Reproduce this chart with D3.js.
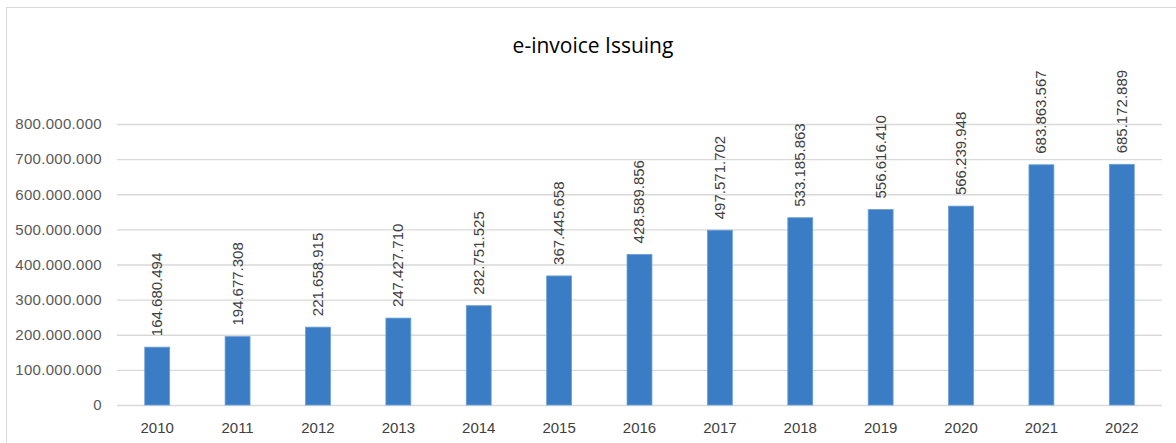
<!DOCTYPE html>
<html>
<head>
<meta charset="utf-8">
<script src="https://cdn.jsdelivr.net/npm/d3@7"></script>
<style>
  html, body { margin: 0; padding: 0; background: #ffffff; }
  svg { display: block; }
</style>
</head>
<body>
<div id="chart"></div>
<script>
// Annual e-invoice issuing volumes
const years = ["2010","2011","2012","2013","2014","2015","2016","2017","2018","2019","2020","2021","2022"];
const invoices = [164680494, 194677308, 221658915, 247427710, 282751525, 367445658, 428589856,
                  497571702, 533185863, 556616410, 566239948, 683863567, 685172889];
const yTicks = [0, 100000000, 200000000, 300000000, 400000000, 500000000, 600000000, 700000000, 800000000];
const chartTitle = "e-invoice Issuing";

const W = 1176, H = 443;
const margin = { left: 117, right: 14, top: 124, bottom: 38 };
const font = "'Liberation Sans', Arial, sans-serif";

// Dotted thousands separator, e.g. 164.680.494
const loc = d3.formatLocale({ decimal: ",", thousands: ".", grouping: [3], currency: ["", ""] });
const fmt = loc.format(",d");

const svg = d3.select("#chart").append("svg")
  .attr("width", W).attr("height", H);

// chart frame
svg.append("rect")
  .attr("x", 6.5).attr("y", 7.5)
  .attr("width", W + 20).attr("height", H + 20)
  .attr("fill", "#ffffff").attr("stroke", "#d9d9d9").attr("stroke-width", 1);

const x = d3.scaleBand()
  .domain(years)
  .range([margin.left, W - margin.right])
  .paddingInner(0.69).paddingOuter(0.345);

const y = d3.scaleLinear()
  .domain([0, 800000000])
  .range([H - margin.bottom, margin.top]);

// y axis with gridlines
const yAxis = d3.axisLeft(y)
  .tickValues(yTicks)
  .tickSize(-(W - margin.right - margin.left))
  .tickPadding(15)
  .tickFormat(d => d === 0 ? "0" : fmt(d));

const gy = svg.append("g")
  .attr("transform", `translate(${margin.left},0)`)
  .call(yAxis);
gy.select(".domain").remove();
gy.selectAll(".tick line").attr("stroke", "#d9d9d9").attr("stroke-width", 1.3);
gy.selectAll(".tick text")
  .attr("fill", "#595959")
  .style("font-family", font)
  .style("font-size", "15px")
  .style("letter-spacing", "0.3px");

// x axis labels
const xAxis = d3.axisBottom(x).tickSize(0).tickPadding(17);
const gx = svg.append("g")
  .attr("transform", `translate(0,${H - margin.bottom})`)
  .call(xAxis);
gx.select(".domain").remove();
gx.selectAll(".tick text")
  .attr("fill", "#404040")
  .style("font-family", font)
  .style("font-size", "15px");

// bars
svg.append("g").selectAll("rect")
  .data(years)
  .join("rect")
  .attr("x", (d) => x(d))
  .attr("width", x.bandwidth())
  .attr("y", (d, i) => y(invoices[i]))
  .attr("height", (d, i) => y(0) - y(invoices[i]))
  .attr("fill", "#3b7dc4")
  .attr("stroke", "#6b9fd6")
  .attr("stroke-width", 0.8);

// rotated value labels above bars
svg.append("g").selectAll("text")
  .data(years)
  .join("text")
  .attr("transform", (d, i) =>
    `translate(${x(d) + x.bandwidth() / 2},${y(invoices[i]) - 11}) rotate(-90)`)
  .attr("text-anchor", "start")
  .attr("dy", "0.33em")
  .attr("fill", "#404040")
  .style("font-family", font)
  .style("font-size", "15px")
  .text((d, i) => fmt(invoices[i]));

// title
svg.append("text")
  .attr("x", 593).attr("y", 53)
  .attr("text-anchor", "middle")
  .attr("fill", "#000000")
  .style("font-family", "'Open Sans', 'Liberation Sans', sans-serif")
  .style("font-size", "21px")
  .text(chartTitle);
</script>
</body>
</html>
